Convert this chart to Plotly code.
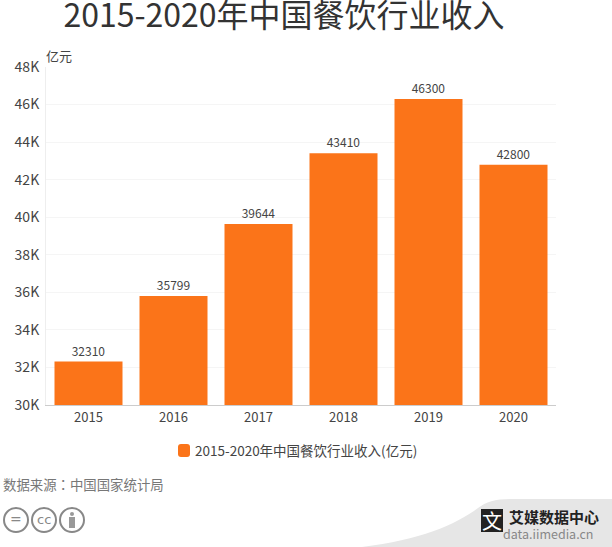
import plotly.graph_objects as go

# data
years = ["2015", "2016", "2017", "2018", "2019", "2020"]
income = [32310, 35799, 39644, 43410, 46300, 42800]
tick_vals = [30000, 32000, 34000, 36000, 38000, 40000, 42000, 44000, 46000, 48000]
tick_text = ["30K", "32K", "34K", "36K", "38K", "40K", "42K", "44K", "46K", "48K"]
legend_label = "2015-2020年中国餐饮行业收入(亿元)"

FONT = "Noto Sans CJK SC"
W, H = 612, 547
L, R, T, B = 46, 556, 67, 405


# pixel position in the picture -> paper coordinates
def px(x):
    return (x - L) / (R - L)


def py(y):
    return (B - y) / (B - T)


def label(text, x, y, size, color, xanchor="left", family=FONT):
    return dict(text=text, xref="paper", yref="paper", x=px(x), y=py(y), xanchor=xanchor,
                yanchor="middle", showarrow=False, borderpad=0, borderwidth=0,
                font=dict(size=size, color=color, family=family))


fig = go.Figure()

fig.add_trace(go.Bar(
    x=years, y=income, name=legend_label,
    marker=dict(color="#fb7419", line=dict(width=0)),
    text=income, textposition="outside", cliponaxis=False,
    textfont=dict(size=12, color="#444444", family=FONT),
    width=0.8, showlegend=False,
))

shapes = []

# grey swoosh behind the logo
shapes.append(dict(
    type="path", xref="paper", yref="paper", layer="below",
    path=f"M {px(362)} {py(547)} C {px(420)} {py(540)} {px(455)} {py(525)} {px(478)} {py(508)} "
         f"C {px(486)} {py(502)} {px(495)} {py(499)} {px(510)} {py(499)} L {px(612)} {py(499)} "
         f"L {px(612)} {py(547)} Z",
    fillcolor="#e6e6e6", line=dict(width=0),
))
# logo block
shapes.append(dict(
    type="rect", xref="paper", yref="paper", layer="below",
    x0=px(481), x1=px(503), y0=py(532), y1=py(509),
    fillcolor="#222222", line=dict(width=0),
))

# legend swatch, rounded corners
x0, x1, y0, y1 = 178, 190, 444, 457
r = 3
shapes.append(dict(
    type="path", xref="paper", yref="paper", layer="below",
    path=f"M {px(x0 + r)} {py(y0)} L {px(x1 - r)} {py(y0)} Q {px(x1)} {py(y0)} {px(x1)} {py(y0 + r)} "
         f"L {px(x1)} {py(y1 - r)} Q {px(x1)} {py(y1)} {px(x1 - r)} {py(y1)} "
         f"L {px(x0 + r)} {py(y1)} Q {px(x0)} {py(y1)} {px(x0)} {py(y1 - r)} "
         f"L {px(x0)} {py(y0 + r)} Q {px(x0)} {py(y0)} {px(x0 + r)} {py(y0)} Z",
    fillcolor="#fb7419", line=dict(width=0),
))

# licence circles
for cx in [16, 44, 72]:
    shapes.append(dict(
        type="circle", xref="paper", yref="paper", layer="below",
        x0=px(cx - 12), x1=px(cx + 12), y0=py(532), y1=py(508),
        line=dict(color="#888888", width=2), fillcolor="white",
    ))
# person in the last circle
shapes.append(dict(
    type="rect", xref="paper", yref="paper", layer="below",
    x0=px(69), x1=px(75), y0=py(528), y1=py(517),
    fillcolor="#999999", line=dict(width=0),
))
shapes.append(dict(
    type="circle", xref="paper", yref="paper", layer="below",
    x0=px(70), x1=px(74), y0=py(516), y1=py(512),
    fillcolor="#999999", line=dict(width=0),
))

annotations = [
    label("亿元", 46, 55, 13, "#444444"),
    label(legend_label, 195, 450, 13.5, "#444444"),
    label("数据来源：中国国家统计局", 3, 484, 13.4, "#777777", family="Noto Sans CJK TC"),
    label("文", 492, 520, 20, "white", xanchor="center"),
    label("=", 16, 519, 14, "#888888", xanchor="center", family="DejaVu Sans"),
    label("cc", 44, 519, 13, "#888888", xanchor="center", family="DejaVu Sans"),
    label("<b>艾媒数据中心</b>", 509, 516, 15, "#222222"),
    label("data.iimedia.cn", 503, 533, 12.5, "#888888"),
]

fig.update_layout(
    width=W, height=H,
    margin=dict(l=L, r=W - R, t=T, b=H - B, autoexpand=False),
    paper_bgcolor="white", plot_bgcolor="white",
    title=dict(
        text="2015-2020年中国餐饮行业收入", x=284 / W, xanchor="center", xref="container",
        y=1 - 16 / H, yanchor="middle", yref="container",
        font=dict(size=32, color="#333333", family=FONT),
    ),
    xaxis=dict(
        showline=True, linecolor="#cccccc", ticks="", showgrid=False,
        tickfont=dict(size=13, color="#444444", family=FONT),
    ),
    yaxis=dict(
        range=[30000, 48000], tickvals=tick_vals, ticktext=tick_text,
        showgrid=True, gridcolor="#f5f5f5", showline=True, linecolor="#eeeeee",
        ticks="", zeroline=False, ticklabelstandoff=3,
        tickfont=dict(size=14, color="#444444", family=FONT),
    ),
    showlegend=False,
    shapes=shapes, annotations=annotations,
)

# the page's default body margin would push the chart 8px down and right
fig.write_html("out.html", config={"displayModeBar": False},
               post_script="document.body.style.margin = '0';")
